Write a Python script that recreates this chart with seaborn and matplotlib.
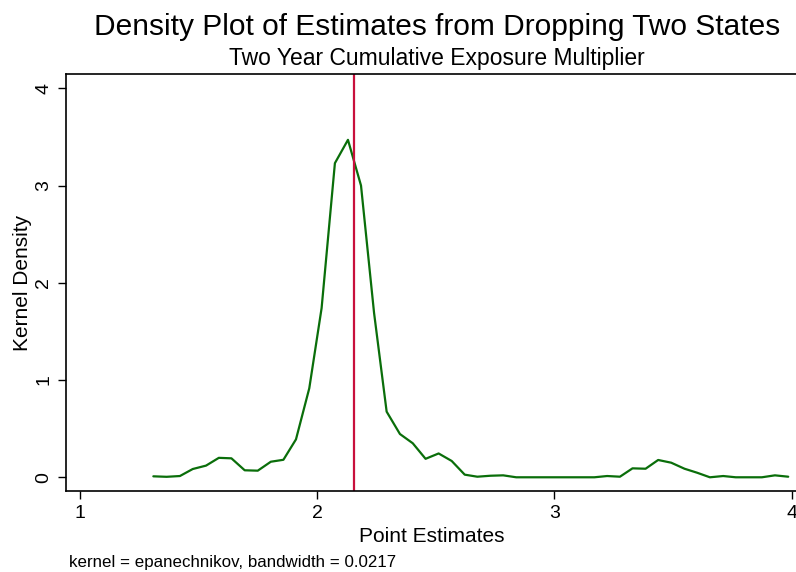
import matplotlib
matplotlib.use("Agg")
import matplotlib.pyplot as plt
import seaborn as sns
import pandas as pd

# Data
estimates = [1.310, 1.366, 1.422, 1.476, 1.532, 1.586, 1.639, 1.695, 1.750, 1.805,
             1.858, 1.911, 1.967, 2.019, 2.075, 2.130, 2.185, 2.240, 2.293, 2.349,
             2.403, 2.457, 2.512, 2.567, 2.622, 2.675, 2.731, 2.784, 2.839, 2.893,
             2.947, 3.002, 3.057, 3.112, 3.168, 3.222, 3.276, 3.329, 3.384, 3.437,
             3.492, 3.548, 3.601, 3.655, 3.711, 3.764, 3.819, 3.874, 3.929, 3.985]
density = [0.010, 0.005, 0.013, 0.085, 0.120, 0.200, 0.195, 0.072, 0.068, 0.160,
           0.180, 0.390, 0.915, 1.740, 3.230, 3.470, 3.000, 1.690, 0.675, 0.445,
           0.350, 0.190, 0.245, 0.168, 0.027, 0.006, 0.016, 0.020, 0.000, 0.000,
           0.000, 0.000, 0.000, 0.000, 0.000, 0.013, 0.006, 0.092, 0.088, 0.178,
           0.150, 0.088, 0.047, 0.000, 0.013, 0.000, 0.000, 0.000, 0.020, 0.006]
ref_value = 2.157
x_ticks = [1, 2, 3, 4]
y_ticks = [0, 1, 2, 3, 4]

sns.set_theme(style="white")
plt.rcParams['font.family'] = ['Liberation Sans', 'DejaVu Sans']
plt.rcParams['text.color'] = 'black'
plt.rcParams['axes.labelcolor'] = 'black'
plt.rcParams['xtick.color'] = 'black'
plt.rcParams['ytick.color'] = 'black'

df = pd.DataFrame({"Point Estimates": estimates, "Kernel Density": density})

fig = plt.figure(figsize=(7.96, 5.72), dpi=100)
ax = fig.add_axes([66/796, 1-491/572, (797-66)/796, (491-74)/572])

sns.lineplot(data=df, x="Point Estimates", y="Kernel Density", ax=ax,
             color="#0a6e0a", linewidth=1.6)
ax.axvline(ref_value, color="#c8103c", linewidth=1.6)

ax.set_xlim(0.942, 4.022)
ax.set_ylim(-0.141, 4.147)
ax.set_xticks(x_ticks)
ax.set_yticks(y_ticks)
ax.set_xticklabels([str(t) for t in x_ticks], fontsize=14)
ax.set_yticklabels([str(t) for t in y_ticks], fontsize=14, rotation=90, va="center")
ax.tick_params(axis="both", direction="out", length=6, width=1.0, color="black",
               labelcolor="black", bottom=True, left=True, pad=4)
for s in ax.spines.values():
    s.set_color("black")
    s.set_linewidth(1.2)
    s.set_visible(True)
ax.spines["right"].set_visible(False)

ax.set_xlabel("Point Estimates", fontsize=15, labelpad=4, color="black")
ax.set_ylabel("Kernel Density", fontsize=15, labelpad=2, color="black")

fig.text(437/796, 1-27/572, "Density Plot of Estimates from Dropping Two States",
         ha="center", va="center", fontsize=21.5, color="black")
fig.text(437/796, 1-58/572, "Two Year Cumulative Exposure Multiplier",
         ha="center", va="center", fontsize=16.5, color="black")
fig.text(69/796, 1-563/572, "kernel = epanechnikov, bandwidth = 0.0217",
         ha="left", va="center", fontsize=12.2, color="black")

fig.savefig("out.png", dpi=100)
